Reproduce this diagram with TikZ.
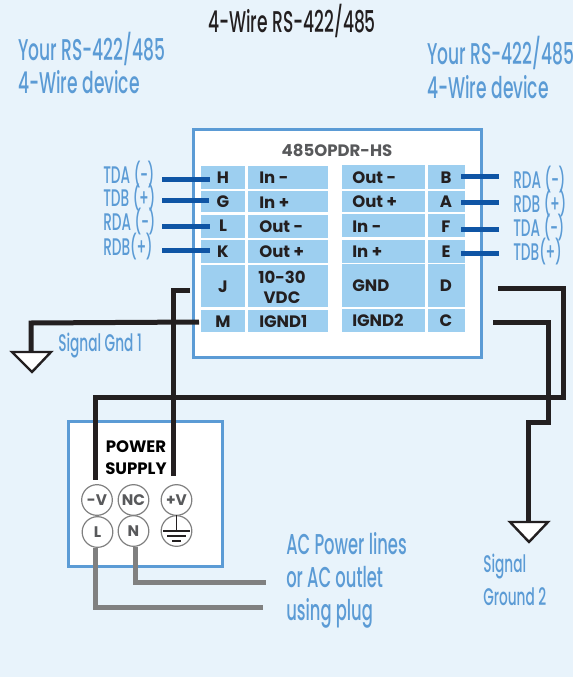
\documentclass[tikz,border=0pt]{standalone}
\usepackage{fontspec}
\setmainfont{Poppins}
\newfontfamily\cond[FakeStretch=0.57]{Poppins Medium}
\newfontfamily\condb{Poppins Bold}
\newcommand{\pn}[1]{(\kern-0.3pt#1\kern-0.3pt)}
\definecolor{bg}{HTML}{E8F3FB}
\definecolor{boxblue}{HTML}{5B9BD5}
\definecolor{cell}{HTML}{9DCFF0}
\definecolor{wireblue}{HTML}{0F55A5}
\definecolor{ink}{HTML}{231F20}
\definecolor{midgray}{HTML}{58595B}
\definecolor{wiregray}{HTML}{808080}
\tikzset{
  x=0.75pt,y=-0.75pt,
  panel/.style={draw=boxblue,line width=2.25pt,fill=white},
  cellbox/.style={fill=cell},
  pin/.style={font=\condb\fontsize{12.4}{15}\selectfont,text=ink,inner sep=0pt,text height=8.5pt,text depth=0pt},
  pinleft/.style={pin,anchor=west},
  bigtext/.style={font=\cond\fontsize{22.5}{24}\selectfont,text=boxblue,anchor=west,inner sep=0pt,text height=15.5pt,text depth=0pt},
  actext/.style={bigtext,font=\cond\fontsize{21.5}{24}\selectfont},
  sigtext/.style={font=\cond\fontsize{18}{20}\selectfont,text=boxblue,anchor=west,inner sep=0pt,text height=12.5pt,text depth=0pt},
  headtext/.style={font=\condb\fontsize{12.4}{15}\selectfont,inner sep=0pt},
  bluewire/.style={draw=wireblue,line width=3.75pt},
  blackwire/.style={draw=ink,line width=3.75pt,miter limit=10},
  graywire/.style={draw=wiregray,line width=3.75pt},
  gndmark/.style={draw=ink,fill=white,line width=1.8pt,line join=miter},
  term/.style={circle,draw=wiregray,line width=0.9pt,fill=white,minimum size=23pt,inner sep=0pt,
    font=\condb\fontsize{11.5}{12}\selectfont,text=midgray},
}
\begin{document}
\begin{tikzpicture}
\useasboundingbox (0,0) rectangle (573,677);
\fill[bg] (0,0) rectangle (573,677);

% titles
\node[font=\cond\fontsize{22.5}{24}\selectfont,text=ink,inner sep=0pt,text height=15.5pt,text depth=0pt] (title) at (292,22) {4-Wire RS-422/485};
\node[bigtext] (devL1) at (18,50) {Your RS-422/485};
\node[bigtext] (devL2) at (18,83) {4-Wire device};
\node[bigtext] (devR1) at (427,54) {Your RS-422/485};
\node[bigtext] (devR2) at (427,88) {4-Wire device};

% main box
\draw[panel] (193,130) rectangle (481,357);
\node[headtext,text=midgray] (model) at (337,150) {485OPDR-HS};

% cells
\foreach \ya/\yb in {166/189,191.5/212,214.5/238,240/263,265/307,310/332}{
  \fill[cellbox] (201,\ya) rectangle (245,\yb);
  \fill[cellbox] (248,\ya) rectangle (328,\yb);
}
\foreach \ya/\yb in {165/189,191/212,214/237,240/263,264/307,309/332}{
  \fill[cellbox] (342,\ya) rectangle (425,\yb);
  \fill[cellbox] (428,\ya) rectangle (465,\yb);
}

% left letters and labels
\node[pin] (H) at (223,178) {H};
\node[pin] (G) at (223,202) {G};
\node[pin] (L) at (223,226) {L};
\node[pin] (K) at (223,252) {K};
\node[pin] (J) at (223,287) {J};
\node[pin] (M) at (223,322) {M};
\node[pinleft] (inm) at (259,178) {In -};
\node[pinleft] (inp) at (259,203) {In +};
\node[pinleft] (outm) at (259,227) {Out -};
\node[pinleft] (outp) at (259,252) {Out +};
\node[headtext,text=ink,align=center] (vdc) at (282,287) {10-30\\VDC};
\node[pinleft] (ig1) at (259,322) {IGND1};

% right letters and labels
\node[pin] (B) at (446,178) {B};
\node[pin] (A) at (446,202) {A};
\node[pin] (F) at (446,227) {F};
\node[pin] (E) at (446,252) {E};
\node[pin] (D) at (446,286) {D};
\node[pin] (C) at (446,321) {C};
\node[pinleft] (routm) at (352,178) {Out -};
\node[pinleft] (routp) at (352,202) {Out +};
\node[pinleft] (rinm) at (352,227) {In -};
\node[pinleft] (rinp) at (352,252) {In +};
\node[pinleft] (gnd) at (352,286) {GND};
\node[pinleft] (ig2) at (352,321) {IGND2};

% signal labels
\node[sigtext] (lH) at (103,175) {TDA \pn{-}};
\node[sigtext] (lG) at (103,198) {TDB \pn{+}};
\node[sigtext] (lL) at (103,222) {RDA \pn{-}};
\node[sigtext] (lK) at (103,247) {RDB\pn{+}};
\node[sigtext] (lB) at (513,180) {RDA \pn{-}};
\node[sigtext] (lA) at (513,204) {RDB \pn{+}};
\node[sigtext] (lF) at (513,228) {TDA \pn{-}};
\node[sigtext] (lE) at (513,252) {TDB\pn{+}};
\node[sigtext] (gnd1) at (58,343) {Signal Gnd 1};
\node[sigtext] (gnd2a) at (483,564) {Signal};
\node[sigtext] (gnd2b) at (483,597) {Ground 2};

% blue wires
\coordinate (wH) at (162,179.5); \coordinate (wG) at (162,200.5);
\coordinate (wL) at (162,226); \coordinate (wK) at (162,250);
\coordinate (wB) at (499,177); \coordinate (wA) at (499,203);
\coordinate (wF) at (499,229); \coordinate (wE) at (499,253);
\draw[bluewire] (wH) -- (210,179.5);
\draw[bluewire] (wG) -- (209,200.5);
\draw[bluewire] (wL) -- (210,226);
\draw[bluewire] (wK) -- (210,250);
\draw[bluewire] (wB) -- (461,177);
\draw[bluewire] (wA) -- (461,203);
\draw[bluewire] (wF) -- (461,229);
\draw[bluewire] (wE) -- (461,253);

% power supply
\draw[panel] (68,421) rectangle (222,566);
\node[headtext,text=black] (pw1) at (136,447) {POWER};
\node[headtext,text=black] (pw2) at (136,469) {SUPPLY};
\node[term] (tmv) at (97,500) {-V};
\node[term] (tnc) at (133.5,500) {NC};
\node[term] (tpv) at (176.5,500) {+V};
\node[term] (tl) at (97.5,532) {L};
\node[term] (tn) at (133.5,531) {N};
\node[term] (te) at (176.5,531) {};
\draw[ink,line width=0.8pt] (te.north) -- (176.5,531)
  (163,531) -- (190,531) (167,536) -- (186,536) (172,541) -- (181,541);

% AC
\node[actext] (ac1) at (286,544) {AC Power lines};
\node[actext] (ac2) at (286,577) {or AC outlet};
\node[actext] (ac3) at (286,610) {using plug};
\coordinate (acN) at (266,582);
\coordinate (acL) at (263,607);
\draw[graywire] (tl.south -| 95.5,0) -- (95.5,607) -- (acL);
\draw[graywire] (tn.south -| 135,0) -- (135,582) -- (acN);

% grounds
\coordinate (g1) at (31,352);
\coordinate (g2) at (528,522);
\draw[gndmark] (12,352) -- (51,352) -- (32,372) -- cycle;
\draw[gndmark] (510,522) -- (548,522) -- (529,542) -- cycle;

% black wires
\coordinate (vp) at (173,476);
\coordinate (vm) at (95,480);
\draw[blackwire] (190,290) -- (173,290) -- (vp);
\draw[blackwire] (199,322) -- (31,323) -- (g1);
\draw[blackwire] (498,288) -- (563,288) -- (563,397) -- (95,397) -- (vm);
\draw[blackwire] (493,322) -- (548,322) -- (548,422) -- (528,422) -- (g2);
\end{tikzpicture}
\end{document}
